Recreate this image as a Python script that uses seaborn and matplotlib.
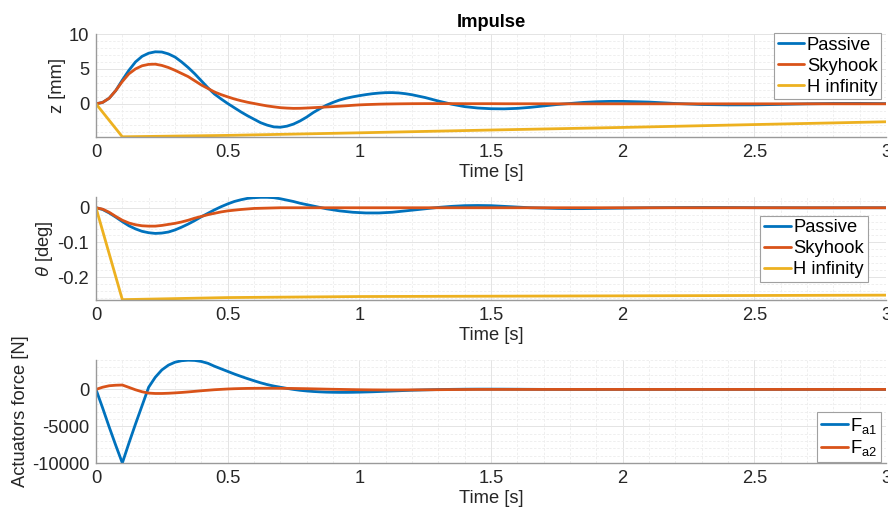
import numpy as np
import pandas as pd
import matplotlib
matplotlib.use("Agg")
import matplotlib.pyplot as plt
from matplotlib.ticker import MultipleLocator, FuncFormatter
import seaborn as sns

# ---------------- data ----------------
time_s = [0, 0.025, 0.05, 0.075, 0.1, 0.125, 0.15, 0.175, 0.2, 0.225,
          0.25, 0.275, 0.3, 0.325, 0.35, 0.375, 0.4, 0.425, 0.45, 0.475,
          0.5, 0.525, 0.55, 0.575, 0.6, 0.625, 0.65, 0.675, 0.7, 0.725,
          0.75, 0.775, 0.8, 0.825, 0.85, 0.875, 0.9, 0.925, 0.95, 0.975,
          1.0, 1.025, 1.05, 1.075, 1.1, 1.125, 1.15, 1.175, 1.2,
          1.25, 1.3, 1.35, 1.4, 1.45, 1.5, 1.55, 1.6, 1.65, 1.7, 1.75,
          1.8, 1.85, 1.9, 1.95, 2.0,
          2.1, 2.2, 2.3, 2.4, 2.5, 2.6, 2.7, 2.8, 2.9, 3.0]

z_passive = [0, 0.2, 0.8, 1.9, 3.4, 4.8, 6.0, 6.8, 7.25, 7.45,
             7.42, 7.15, 6.7, 6.0, 5.2, 4.3, 3.3, 2.3, 1.4, 0.7,
             0.05, -0.55, -1.15, -1.7, -2.2, -2.7, -3.05, -3.3, -3.35, -3.2,
             -2.9, -2.45, -1.9, -1.25, -0.7, -0.2, 0.2, 0.55, 0.8, 1.0,
             1.17, 1.32, 1.45, 1.54, 1.6, 1.61, 1.56, 1.45, 1.3,
             0.9, 0.4, -0.05, -0.4, -0.6, -0.7, -0.72, -0.65, -0.5, -0.3, -0.1,
             0.05, 0.2, 0.3, 0.35, 0.35,
             0.25, 0.05, -0.1, -0.15, -0.15, -0.08, 0.0, 0.05, 0.06, 0.03]
z_skyhook = [0, 0.2, 0.8, 1.9, 3.2, 4.3, 5.0, 5.45, 5.65, 5.68,
             5.5, 5.2, 4.8, 4.35, 3.9, 3.3, 2.7, 2.2, 1.7, 1.32,
             1.0, 0.7, 0.45, 0.23, 0.05, -0.13, -0.3, -0.43, -0.55, -0.61,
             -0.65, -0.64, -0.6, -0.55, -0.5, -0.45, -0.4, -0.34, -0.28, -0.21,
             -0.15, -0.11, -0.08, -0.05, -0.03, -0.015, 0.0, 0.01, 0.02,
             0.03, 0.03, 0.03, 0.02, 0.02, 0.02, 0.01, 0.01, 0.01, 0.01, 0.0,
             0.0, 0.0, 0.0, 0.0, 0.0,
             0.0, 0.0, 0.0, 0.0, 0.0, 0.0, 0.0, 0.0, 0.0, 0.0]
hinf_time = [0, 0.1, 0.5, 1.0, 1.5, 2.0, 2.5, 3.0]
z_hinf = [0, -4.72, -4.52, -4.15, -3.75, -3.38, -2.97, -2.57]

th_passive = [0, -0.005, -0.015, -0.027, -0.04, -0.052, -0.061, -0.068, -0.072, -0.074,
              -0.073, -0.07, -0.064, -0.056, -0.047, -0.037, -0.026, -0.016, -0.006, 0.003,
              0.011, 0.018, 0.023, 0.027, 0.029, 0.030, 0.030, 0.029, 0.026, 0.022,
              0.018, 0.013, 0.009, 0.005, 0.001, -0.003, -0.006, -0.009, -0.011, -0.013,
              -0.014, -0.015, -0.015, -0.015, -0.014, -0.013, -0.011, -0.009, -0.007,
              -0.003, 0.001, 0.004, 0.006, 0.0065, 0.006, 0.004, 0.002, 0.0, -0.001, -0.002,
              -0.0025, -0.0025, -0.002, -0.0015, -0.001,
              0.0, 0.0005, 0.0008, 0.0006, 0.0002, 0.0, -0.0002, -0.0002, 0.0, 0.0]
th_skyhook = [0, -0.004, -0.013, -0.025, -0.036, -0.044, -0.049, -0.052, -0.053, -0.053,
              -0.051, -0.048, -0.045, -0.041, -0.036, -0.030, -0.025, -0.020, -0.016, -0.012,
              -0.009, -0.007, -0.005, -0.0035, -0.002, -0.0015, -0.001, -0.0005, 0.0, 0.0,
              0.0, 0.0, 0.0, 0.0, 0.0, 0.0, 0.0, 0.0, 0.0, 0.0,
              0.0, 0.0, 0.0, 0.0, 0.0, 0.0, 0.0, 0.0, 0.0,
              0.0, 0.0, 0.0, 0.0, 0.0, 0.0, 0.0, 0.0, 0.0, 0.0, 0.0,
              0.0, 0.0, 0.0, 0.0, 0.0,
              0.0, 0.0, 0.0, 0.0, 0.0, 0.0, 0.0, 0.0, 0.0, 0.0]
th_hinf = [0, -0.265, -0.259, -0.256, -0.255, -0.254, -0.253, -0.252]

f_a1 = [0, -2500, -5100, -7600, -10000, -7300, -4700, -2200, 300, 1650,
        2650, 3300, 3700, 3900, 3970, 3940, 3800, 3550, 3150, 2800,
        2450, 2100, 1780, 1470, 1180, 900, 660, 460, 300, 140,
        0, -120, -210, -280, -330, -370, -390, -400, -400, -390,
        -370, -345, -320, -285, -250, -215, -180, -145, -110,
        -60, -20, 10, 30, 40, 40, 35, 25, 15, 5, 0,
        -5, -5, -5, 0, 0,
        0, 0, 0, 0, 0, 0, 0, 0, 0, 0]
f_a2 = [0, 300, 500, 570, 600, 280, -50, -320, -500, -550,
        -550, -520, -470, -410, -340, -260, -180, -110, -40, 10,
        60, 95, 120, 140, 150, 158, 160, 157, 150, 140,
        130, 115, 100, 80, 60, 40, 20, 5, -10, -25,
        -40, -50, -60, -65, -70, -70, -70, -65, -60,
        -50, -35, -20, -10, 0, 0, 0, 0, 0, 0, 0,
        0, 0, 0, 0, 0,
        0, 0, 0, 0, 0, 0, 0, 0, 0, 0]

xticks = [0, 0.5, 1, 1.5, 2, 2.5, 3]
series_names = ["Passive", "Skyhook", "H infinity"]
force_names = [r"F$_{\mathrm{a1}}$", r"F$_{\mathrm{a2}}$"]
colors = ["#0072BD", "#D95319", "#EDB120"]

# ---------------- style ----------------
sns.set_style("white")
plt.rcParams["font.family"] = ["Liberation Sans", "DejaVu Sans"]
plt.rcParams["axes.unicode_minus"] = False
plt.rcParams["mathtext.fontset"] = "custom"
plt.rcParams["mathtext.rm"] = "Liberation Sans"
plt.rcParams["mathtext.it"] = "Liberation Sans:italic"

FS = 13.2
TXT = "#262626"
SPINE = "#9a9a9a"


def long_df(parts):
    frames = []
    for name, t, v in parts:
        frames.append(pd.DataFrame({"t": t, "v": v, "s": name}))
    return pd.concat(frames, ignore_index=True)


fig = plt.figure(figsize=(8.88, 5.18), dpi=100)
L, W, H = 96 / 888, 790 / 888, 103 / 518
ax1 = fig.add_axes([L, 1 - 137 / 518, W, H])
ax2 = fig.add_axes([L, 1 - 300 / 518, W, H])
ax3 = fig.add_axes([L, 1 - 463 / 518, W, H])

df1 = long_df([(series_names[0], time_s, z_passive),
               (series_names[1], time_s, z_skyhook),
               (series_names[2], hinf_time, z_hinf)])
df2 = long_df([(series_names[0], time_s, th_passive),
               (series_names[1], time_s, th_skyhook),
               (series_names[2], hinf_time, th_hinf)])
df3 = long_df([(force_names[0], time_s, f_a1),
               (force_names[1], time_s, f_a2)])

for ax, df, pal in [(ax1, df1, colors), (ax2, df2, colors), (ax3, df3, colors[:2])]:
    sns.lineplot(data=df, x="t", y="v", hue="s", palette=pal, ax=ax,
                 linewidth=2.0, estimator=None, sort=False)

ax1.set_ylim(-4.75, 10)
ax1.yaxis.set_major_locator(MultipleLocator(5))
ax1.yaxis.set_minor_locator(MultipleLocator(1))
ax2.set_ylim(-0.266, 0.031)
ax2.set_yticks([-0.2, -0.1, 0])
ax2.yaxis.set_minor_locator(MultipleLocator(0.02))
ax3.set_ylim(-10000, 4000)
ax3.set_yticks([-10000, -5000, 0])
ax3.yaxis.set_minor_locator(MultipleLocator(1000))

fmt = FuncFormatter(lambda v, p: "%g" % v)
for ax in (ax1, ax2, ax3):
    ax.set_xlim(0, 3)
    ax.set_xticks(xticks)
    ax.xaxis.set_minor_locator(MultipleLocator(0.1))
    ax.xaxis.set_major_formatter(fmt)
    ax.yaxis.set_major_formatter(fmt)
    ax.set_axisbelow(True)
    ax.grid(True, which="major", color="#e4e4e4", linewidth=0.7, linestyle="-")
    ax.grid(True, which="minor", color="#ededed", linewidth=0.6, linestyle=(0, (3, 2)))
    for s in ("top", "right"):
        ax.spines[s].set_visible(False)
    for s in ("left", "bottom"):
        ax.spines[s].set_color(SPINE)
        ax.spines[s].set_linewidth(1.0)
    ax.tick_params(which="major", direction="in", length=4, width=0.8, color=SPINE,
                   labelsize=FS, labelcolor=TXT, pad=5)
    ax.tick_params(which="minor", length=0)
    ax.set_xlabel("Time [s]", fontsize=FS, color=TXT, labelpad=2)

ax1.set_ylabel("z [mm]", fontsize=FS, color=TXT, labelpad=2)
ax2.set_ylabel(r"$\theta$ [deg]", fontsize=FS, color=TXT, labelpad=2)
ax3.set_ylabel("Actuators force [N]", fontsize=FS, color=TXT, labelpad=2)
ax1.set_title("Impulse", fontsize=FS, fontweight="bold", color="black", pad=5)

leg_kw = dict(fontsize=FS, frameon=True, fancybox=False, framealpha=1, edgecolor="#a0a0a0",
              borderpad=0.2, handlelength=1.45, handletextpad=0.15, labelspacing=0.22,
              borderaxespad=0.0)
lg = ax1.legend(loc="upper right", bbox_to_anchor=(0.994, 1.01), **leg_kw)
lg2 = ax2.legend(loc="upper right", bbox_to_anchor=(0.977, 0.82), **leg_kw)
lg3 = ax3.legend(loc="lower right", bbox_to_anchor=(0.994, 0.01),
                 **{**leg_kw, "labelspacing": 0.15})
for l in (lg, lg2, lg3):
    l.get_frame().set_linewidth(0.8)
    for line in l.get_lines():
        line.set_linewidth(2.0)
    for t in l.get_texts():
        t.set_color("black")

fig.savefig("out.png", dpi=100)
